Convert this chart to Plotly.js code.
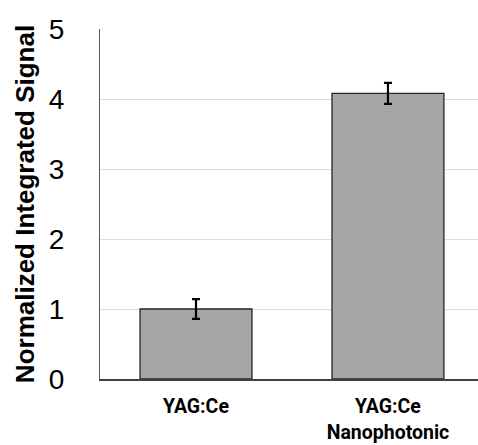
<!DOCTYPE html>
<html>
<head>
<script src="https://cdn.plot.ly/plotly-3.0.1.min.js"></script>
<style>body{margin:0;padding:0;background:#fff}</style>
</head>
<body>
<div id="chart" style="width:478px;height:445px"></div>
<script>
const categories = ["YAG:Ce", "YAG:Ce<br>Nanophotonic"];
const values = [1.0, 4.08];
const errors = [0.14, 0.15];
const yTicks = [0, 1, 2, 3, 4, 5];

const trace = {
  type: "bar",
  x: categories,
  y: values,
  width: 0.583,
  marker: {color: "#a6a6a6", line: {color: "#262626", width: 1.3}},
  error_y: {type: "data", array: errors, visible: true, color: "#000", thickness: 2.2, width: 4},
  hoverinfo: "none"
};

const layout = {
  width: 478, height: 445,
  margin: {l: 100, r: 0, t: 29, b: 66},
  paper_bgcolor: "#fff", plot_bgcolor: "#fff",
  showlegend: false,
  xaxis: {
    type: "category",
    range: [-0.5, 1.469],
    showgrid: false,
    showline: true, linecolor: "#404040", linewidth: 2,
    ticks: "",
    ticklabelstandoff: 9,
    tickfont: {family: "Roboto, 'Liberation Sans', sans-serif", size: 19.5, color: "#000", weight: "bold"}
  },
  yaxis: {
    range: [0, 5],
    tickvals: yTicks,
    ticktext: yTicks.map(String),
    showgrid: true, gridcolor: "#dedede", gridwidth: 1,
    showline: true, linecolor: "#595959", linewidth: 1,
    zeroline: false,
    ticks: "",
    ticklabelstandoff: 29,
    tickfont: {family: "'Liberation Sans', Arial, sans-serif", size: 28, color: "#000"},
    title: {
      text: "<b>Normalized Integrated Signal</b>",
      font: {family: "'Liberation Sans', Arial, sans-serif", size: 26, color: "#000"},
      standoff: 6
    }
  }
};

Plotly.newPlot("chart", [trace], layout, {displayModeBar: false, staticPlot: true});
</script>
</body>
</html>
